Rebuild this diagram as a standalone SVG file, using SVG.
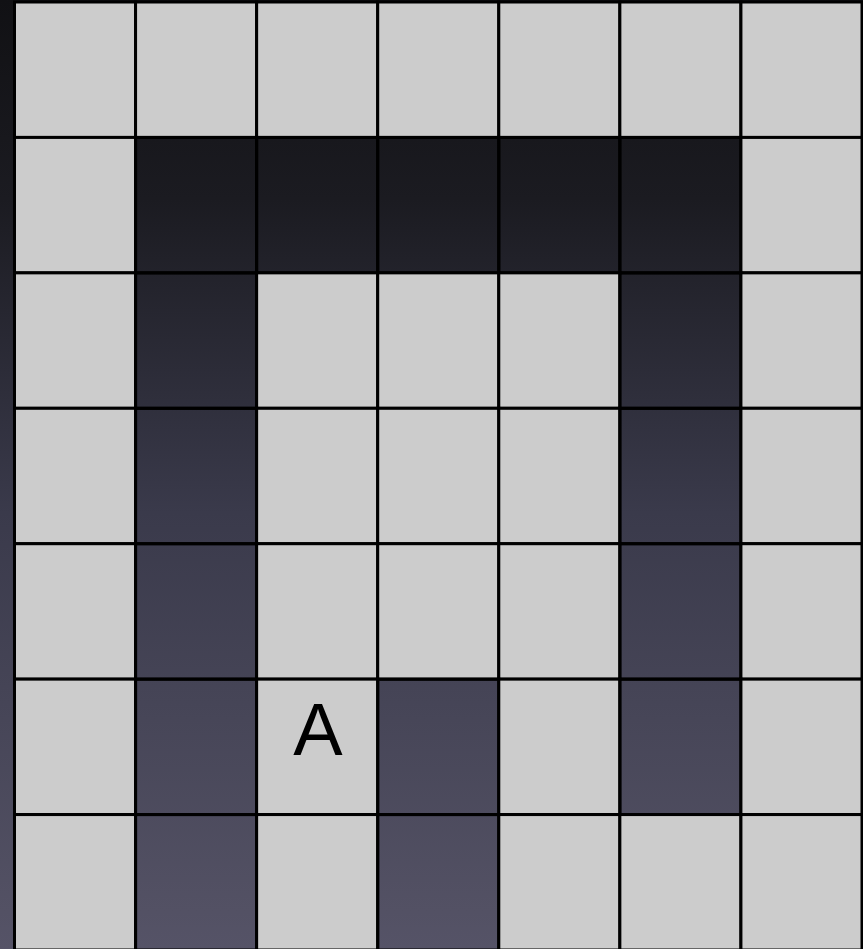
<svg xmlns="http://www.w3.org/2000/svg" width="863" height="949" viewBox="0 0 863 949">
<defs>
<linearGradient id="bg" x1="0" y1="0" x2="0" y2="1">
<stop offset="0" stop-color="#111114"/>
<stop offset="0.21" stop-color="#1b1b21"/>
<stop offset="0.54" stop-color="#3a3a4b"/>
<stop offset="0.96" stop-color="#535164"/>
<stop offset="1" stop-color="#555367"/>
</linearGradient>
<style>
.l{fill:#cccccc;stroke:#000;stroke-width:3}
.d{fill:none;stroke:#000;stroke-width:3}
.t{font-family:"Liberation Sans",Arial,sans-serif;font-size:74px;fill:#000;text-anchor:middle}
</style>
</defs>
<rect x="0" y="0" width="863" height="949" fill="url(#bg)"/>
<g id="grid">
<g id="r0c0"><rect class="l" x="14.5" y="2" width="121.07" height="135.43"/></g>
<g id="r0c1"><rect class="l" x="135.57" y="2" width="121.07" height="135.43"/></g>
<g id="r0c2"><rect class="l" x="256.64" y="2" width="121.07" height="135.43"/></g>
<g id="r0c3"><rect class="l" x="377.71" y="2" width="121.07" height="135.43"/></g>
<g id="r0c4"><rect class="l" x="498.79" y="2" width="121.07" height="135.43"/></g>
<g id="r0c5"><rect class="l" x="619.86" y="2" width="121.07" height="135.43"/></g>
<g id="r0c6"><rect class="l" x="740.93" y="2" width="121.07" height="135.43"/></g>

<g id="r1c0"><rect class="l" x="14.5" y="137.43" width="121.07" height="135.43"/></g>
<g id="r1c1"><rect class="d" x="135.57" y="137.43" width="121.07" height="135.43"/></g>
<g id="r1c2"><rect class="d" x="256.64" y="137.43" width="121.07" height="135.43"/></g>
<g id="r1c3"><rect class="d" x="377.71" y="137.43" width="121.07" height="135.43"/></g>
<g id="r1c4"><rect class="d" x="498.79" y="137.43" width="121.07" height="135.43"/></g>
<g id="r1c5"><rect class="d" x="619.86" y="137.43" width="121.07" height="135.43"/></g>
<g id="r1c6"><rect class="l" x="740.93" y="137.43" width="121.07" height="135.43"/></g>

<g id="r2c0"><rect class="l" x="14.5" y="272.86" width="121.07" height="135.43"/></g>
<g id="r2c1"><rect class="d" x="135.57" y="272.86" width="121.07" height="135.43"/></g>
<g id="r2c2"><rect class="l" x="256.64" y="272.86" width="121.07" height="135.43"/></g>
<g id="r2c3"><rect class="l" x="377.71" y="272.86" width="121.07" height="135.43"/></g>
<g id="r2c4"><rect class="l" x="498.79" y="272.86" width="121.07" height="135.43"/></g>
<g id="r2c5"><rect class="d" x="619.86" y="272.86" width="121.07" height="135.43"/></g>
<g id="r2c6"><rect class="l" x="740.93" y="272.86" width="121.07" height="135.43"/></g>

<g id="r3c0"><rect class="l" x="14.5" y="408.29" width="121.07" height="135.43"/></g>
<g id="r3c1"><rect class="d" x="135.57" y="408.29" width="121.07" height="135.43"/></g>
<g id="r3c2"><rect class="l" x="256.64" y="408.29" width="121.07" height="135.43"/></g>
<g id="r3c3"><rect class="l" x="377.71" y="408.29" width="121.07" height="135.43"/></g>
<g id="r3c4"><rect class="l" x="498.79" y="408.29" width="121.07" height="135.43"/></g>
<g id="r3c5"><rect class="d" x="619.86" y="408.29" width="121.07" height="135.43"/></g>
<g id="r3c6"><rect class="l" x="740.93" y="408.29" width="121.07" height="135.43"/></g>

<g id="r4c0"><rect class="l" x="14.5" y="543.71" width="121.07" height="135.43"/></g>
<g id="r4c1"><rect class="d" x="135.57" y="543.71" width="121.07" height="135.43"/></g>
<g id="r4c2"><rect class="l" x="256.64" y="543.71" width="121.07" height="135.43"/></g>
<g id="r4c3"><rect class="l" x="377.71" y="543.71" width="121.07" height="135.43"/></g>
<g id="r4c4"><rect class="l" x="498.79" y="543.71" width="121.07" height="135.43"/></g>
<g id="r4c5"><rect class="d" x="619.86" y="543.71" width="121.07" height="135.43"/></g>
<g id="r4c6"><rect class="l" x="740.93" y="543.71" width="121.07" height="135.43"/></g>

<g id="r5c0"><rect class="l" x="14.5" y="679.14" width="121.07" height="135.43"/></g>
<g id="r5c1"><rect class="d" x="135.57" y="679.14" width="121.07" height="135.43"/></g>
<g id="r5c2"><rect class="l" x="256.64" y="679.14" width="121.07" height="135.43"/><text class="t" x="318" y="755">A</text></g>
<g id="r5c3"><rect class="d" x="377.71" y="679.14" width="121.07" height="135.43"/></g>
<g id="r5c4"><rect class="l" x="498.79" y="679.14" width="121.07" height="135.43"/></g>
<g id="r5c5"><rect class="d" x="619.86" y="679.14" width="121.07" height="135.43"/></g>
<g id="r5c6"><rect class="l" x="740.93" y="679.14" width="121.07" height="135.43"/></g>

<g id="r6c0"><rect class="l" x="14.5" y="814.57" width="121.07" height="135.43"/></g>
<g id="r6c1"><rect class="d" x="135.57" y="814.57" width="121.07" height="135.43"/></g>
<g id="r6c2"><rect class="l" x="256.64" y="814.57" width="121.07" height="135.43"/></g>
<g id="r6c3"><rect class="d" x="377.71" y="814.57" width="121.07" height="135.43"/></g>
<g id="r6c4"><rect class="l" x="498.79" y="814.57" width="121.07" height="135.43"/></g>
<g id="r6c5"><rect class="l" x="619.86" y="814.57" width="121.07" height="135.43"/></g>
<g id="r6c6"><rect class="l" x="740.93" y="814.57" width="121.07" height="135.43"/></g>
</g>
</svg>
